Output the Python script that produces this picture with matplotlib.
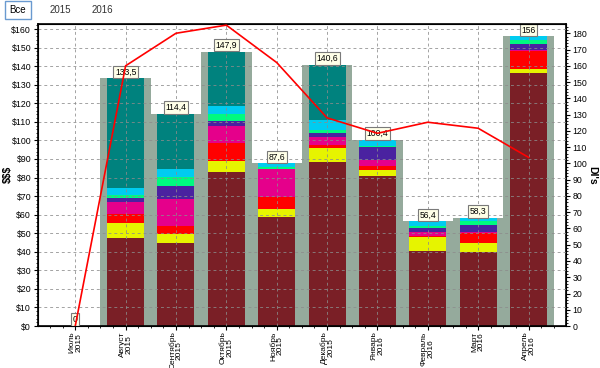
import numpy as np
import matplotlib.pyplot as plt
from matplotlib.ticker import MultipleLocator, FuncFormatter

plt.rcParams['font.family'] = ['Liberation Sans', 'DejaVu Sans']

months = ['Июль\n2015', 'Август\n2015', 'Сентябрь\n2015', 'Октябрь\n2015',
          'Ноябрь\n2015', 'Декабрь\n2015', 'Январь\n2016', 'Февраль\n2016',
          'Март\n2016', 'Апрель\n2016']

# stacked segments, bottom to top ($)
s_darkred = [0, 47.2, 44.5, 83.1, 58.9, 88.4, 80.8, 40.6, 39.7, 136.1]
s_yellow  = [0, 8.1, 5.1, 5.8, 4.1, 7.3, 3.1, 7.5, 5.0, 2.5]
s_red     = [0, 5.2, 4.5, 9.9, 6.3, 1.8, 2.5, 0.5, 5.2, 9.6]
s_magenta = [0, 6.5, 14.3, 9.1, 15.1, 4.3, 3.0, 2.0, 0.7, 0.5]
s_purple  = [0, 1.8, 7.0, 2.4, 0.0, 2.2, 6.9, 2.4, 4.0, 3.1]
s_green   = [0, 1.6, 4.7, 4.1, 1.4, 1.4, 0.9, 0.7, 2.1, 2.3]
s_cyan    = [0, 4.0, 4.7, 4.1, 1.8, 5.6, 3.2, 2.7, 1.6, 1.9]
s_teal    = [0, 59.1, 29.6, 29.4, 0.0, 29.6, 0.0, 0.0, 0.0, 0.0]
totals    = [0, 133.5, 114.4, 147.9, 87.6, 140.6, 100.4, 56.4, 58.3, 156]
total_lbl = ['0', '133,5', '114,4', '147,9', '87,6', '140,6', '100,4', '56,4', '58,3', '156']

# red line, right axis
dis = [0, 160, 180, 185, 162, 128, 118.5, 125.3, 121.6, 103.7]

segments = [(s_darkred, '#7a1f26'), (s_yellow, '#e6f400'), (s_red, '#ff0000'),
            (s_magenta, '#e5008b'), (s_purple, '#4a22a0'), (s_green, '#00fa80'),
            (s_cyan, '#00ccf0'), (s_teal, '#00827e')]

fig = plt.figure(figsize=(6, 3.68), dpi=100)
ax = fig.add_axes([0.0633, 0.114, 0.8797, 0.8217])
x = np.arange(len(months))

ax.bar(x, totals, width=1.0, color='#95aa9c', zorder=1)
bottom = np.zeros(len(x))
for vals, col in segments:
    v = np.array(vals)
    ax.bar(x, v, width=0.735, bottom=bottom, color=col, zorder=2)
    bottom += v

for xi, t, lbl in zip(x, totals, total_lbl):
    ax.text(xi, t + 1.0, lbl, ha='center', va='bottom', fontsize=6.2, zorder=4,
            bbox=dict(boxstyle='square,pad=0.2', fc='#ffffe8', ec='#7a7a7a', lw=0.8))

ax.set_xlim(-0.74, 9.74)
ax.set_ylim(0, 162.9)
ax.set_xticks(x)
ax.set_xticklabels(months, rotation=90, fontsize=6.0, linespacing=0.95)
ax.xaxis.set_minor_locator(MultipleLocator(0.25))
ax.yaxis.set_major_locator(MultipleLocator(10))
ax.yaxis.set_minor_locator(MultipleLocator(2))
ax.yaxis.set_major_formatter(FuncFormatter(lambda v, p: f'${v:.0f}'))
ax.tick_params(axis='y', labelsize=6.3, length=3, pad=2)
ax.tick_params(axis='x', length=3, pad=0.8)
ax.tick_params(which='minor', length=1.5)
ax.grid(True, which='major', ls=(0, (3, 3)), color='#8c8c8c', lw=0.7, alpha=0.8, zorder=3)
ax.set_axisbelow(False)
ax.set_ylabel('$$$', fontsize=7.5, fontweight='bold')
ax.yaxis.set_label_coords(-0.048, 0.5)
for sp in ax.spines.values():
    sp.set_linewidth(1.2)

ax2 = ax.twinx()
ax2.plot(x, dis, color='#ff0000', lw=1.2, zorder=5)
ax2.set_ylim(0, 185.9)
ax2.yaxis.set_major_locator(MultipleLocator(10))
ax2.yaxis.set_minor_locator(MultipleLocator(2))
ax2.tick_params(axis='y', labelsize=6.3, length=3, pad=2)
ax2.tick_params(which='minor', length=1.5)
ax2.set_ylabel("DI's", fontsize=7.5, fontweight='bold', rotation=270, va='center')
ax2.yaxis.set_label_coords(1.05, 0.5)

# period buttons
fig.text(18 / 600, 1 - 10 / 368, 'Все', fontsize=7, ha='center', va='center',
         bbox=dict(boxstyle='square,pad=0.45', fc='white', ec='#6a9ad0', lw=1.0))
fig.text(60 / 600, 1 - 10 / 368, '2015', fontsize=7, ha='center', va='center', color='#333333')
fig.text(102 / 600, 1 - 10 / 368, '2016', fontsize=7, ha='center', va='center', color='#333333')

fig.savefig('out.png', dpi=100)
